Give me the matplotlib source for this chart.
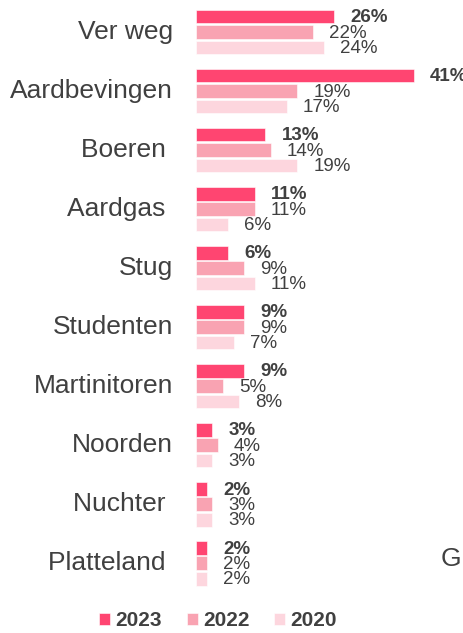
import numpy as np
import matplotlib
matplotlib.use("Agg")
import matplotlib.pyplot as plt

plt.rcParams['font.family'] = ['Liberation Sans', 'DejaVu Sans']

categories = ["Ver weg", "Aardbevingen", "Boeren ", "Aardgas ", "Stug", "Studenten",
              "Martinitoren", "Noorden", "Nuchter ", "Platteland "]
v2023 = [26, 41, 13, 11, 6, 9, 9, 3, 2, 2]
v2022 = [22, 19, 14, 11, 9, 9, 5, 4, 3, 2]
v2020 = [24, 17, 19, 6, 11, 7, 8, 3, 3, 2]
years = ["2023", "2022", "2020"]
colors = ["#FF4571", "#F9A3B2", "#FDD6DE"]
text_col = "#404040"

W, H = 464, 633
fig = plt.figure(figsize=(W / 100, H / 100), dpi=100)
x0 = 196.5
px_per = 5.3
ax = fig.add_axes([x0 / W, 1 - 600 / H, 1 - x0 / W, 600 / H])
ax.set_xlim(0, (W - x0) / px_per)
ax.set_ylim(9.622, -0.542)
ax.axis('off')

y = np.arange(len(categories))
off = 0.261
h = 0.232
for k, (vals, yr, c) in enumerate(zip([v2023, v2022, v2020], years, colors)):
    yy = y + (k - 1) * off
    ax.barh(yy, vals, height=h, color=c, edgecolor='white', linewidth=0.4, label=yr)
    for yi, v in zip(yy, vals):
        ax.text(v + 16 / px_per, yi + 0.02, f"{v}%", fontsize=13.5, color=text_col,
                fontweight='bold' if k == 0 else 'normal', va='center', ha='left')

for yi, name in zip(y, categories):
    ax.text(-23.5 / px_per, yi, name, fontsize=19, color=text_col, ha='right', va='center',
            clip_on=False)

# cut-off label at the right edge
fig.text(441 / W, 1 - 559 / H, "G", fontsize=19, color=text_col, ha='left', va='center')

leg = fig.legend(loc='center', bbox_to_anchor=(218 / W, 1 - 621 / H), ncol=3, frameon=False,
                 fontsize=15, handlelength=0.53, handleheight=0.53, handletextpad=0.25,
                 columnspacing=1.2, borderaxespad=0)
for t in leg.get_texts():
    t.set_fontweight('bold')
    t.set_color(text_col)

fig.savefig("out.png", dpi=100)
